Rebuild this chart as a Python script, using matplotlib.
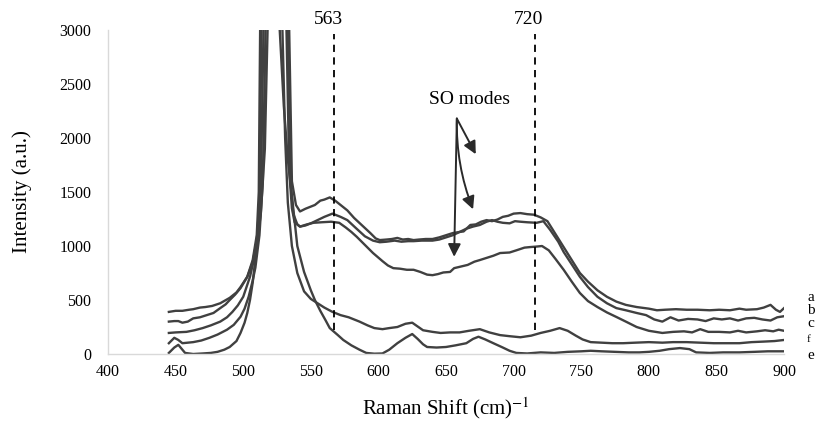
import numpy as np
import matplotlib
matplotlib.use('Agg')
import matplotlib.pyplot as plt

# Raman spectra, shift in cm-1 vs intensity (a.u.)
a_x = [445, 450, 455, 460, 463, 468, 472, 477, 483, 490, 495, 498, 503, 507, 510, 511.5, 512.5, 516, 521,
       534, 536, 539, 542, 546, 549, 553, 557, 560, 564, 568, 572, 577, 582, 588, 594, 598, 601,
       606, 610, 614, 618, 622, 626, 630, 635, 640, 645, 650, 655, 660, 663, 668, 672, 676, 680, 684, 688,
       692, 696, 700, 705, 710, 715, 720, 725, 730, 737, 743, 749, 755, 762, 769, 776, 783, 791, 800, 806,
       812, 820, 828, 836, 845, 852, 860, 867, 872, 880, 885, 890, 894, 897, 900]
a_y = [390, 400, 400, 410, 415, 430, 435, 445, 470, 520, 570, 620, 715, 870, 1100, 1500, 3000, 5000, 6000,
       3000, 1600, 1380, 1320, 1345, 1360, 1380, 1420, 1430, 1450, 1420, 1380, 1330, 1260, 1190, 1120, 1070, 1055,
       1060, 1065, 1075, 1060, 1065, 1055, 1060, 1065, 1065, 1080, 1100, 1120, 1130, 1135, 1195, 1200, 1225, 1240, 1230, 1245,
       1270, 1280, 1300, 1305, 1295, 1290, 1265, 1230, 1130, 990, 870, 750, 670, 590, 530, 485, 455, 435, 420, 405,
       410, 415, 410, 410, 405, 410, 405, 420, 410, 415, 430, 455, 410, 390, 425]

b_x = [445, 449, 452, 455, 459, 463, 468, 473, 478, 483, 487, 490, 494, 498, 503, 507, 510, 512, 513.5, 521,
       533, 535, 537, 540, 542, 546, 550, 555, 560, 566, 572, 577, 583, 590, 596, 601, 606,
       612, 617, 622, 626, 632, 640, 645, 650, 655, 660, 665, 670, 675, 680, 684, 688, 692, 697, 701, 705,
       710, 717, 722, 727, 733, 737, 743, 749, 755, 762, 769, 776, 783, 791, 798, 804, 810, 816, 822, 829,
       836, 842, 848, 854, 860, 866, 872, 878, 884, 890, 895, 900]
b_y = [300, 305, 305, 290, 300, 330, 340, 360, 380, 425, 460, 500, 550, 610, 715, 850, 1050, 1400, 3000, 6000,
       3000, 1600, 1300, 1200, 1180, 1190, 1210, 1240, 1270, 1300, 1270, 1240, 1170, 1090, 1050, 1035, 1040,
       1050, 1040, 1045, 1045, 1050, 1050, 1060, 1080, 1100, 1130, 1160, 1180, 1195, 1225, 1240, 1225, 1215, 1210, 1230, 1225,
       1220, 1215, 1230, 1150, 1040, 945, 830, 715, 620, 530, 470, 425, 405, 380, 360, 320, 300, 340, 310, 325,
       320, 305, 330, 320, 330, 310, 330, 335, 320, 310, 340, 350]

c_x = [445, 450, 458, 464, 470, 476, 483, 488, 492, 496, 500, 505, 508, 511, 513, 515, 521,
       532, 534, 536, 538, 542, 547, 552, 558, 565, 571, 576, 580, 584, 590, 596, 603, 607, 611, 616,
       621, 626, 631, 636, 640, 644, 648, 653, 656, 661, 666, 671, 675, 680, 685, 690, 697, 702, 708, 712,
       717, 721, 726, 731, 737, 743, 749, 755, 762, 769, 776, 783, 791, 800, 810, 818, 826, 832, 838, 844,
       852, 860, 866, 872, 880, 886, 892, 896, 900]
c_y = [195, 200, 205, 220, 240, 265, 300, 340, 390, 450, 530, 715, 880, 1100, 1500, 3000, 6000,
       3000, 1700, 1350, 1220, 1180, 1200, 1215, 1220, 1225, 1215, 1170, 1130, 1085, 1010, 935, 860, 820, 795, 790,
       780, 780, 760, 735, 730, 740, 755, 760, 795, 810, 825, 855, 870, 890, 910, 935, 940, 960, 985, 990,
       995, 1000, 960, 880, 780, 670, 565, 490, 435, 385, 343, 300, 250, 215, 195, 205, 210, 200, 230, 205,
       205, 200, 215, 200, 210, 220, 210, 225, 215]

f_x = [445, 449, 452, 455, 459, 463, 469, 475, 481, 488, 493, 498, 501, 504, 507, 509, 512, 514.5, 516.5, 521,
       529, 531, 533, 536, 540, 545, 550, 555, 560, 566, 572, 578, 586, 592, 597, 603, 608, 614,
       620, 625, 629, 633, 640, 646, 653, 660, 667, 675, 682, 690, 697, 705, 713, 720, 727, 734, 740, 746,
       751, 757, 765, 773, 781, 790, 800, 810, 818, 828, 838, 848, 858, 867, 876, 885, 893, 900]
f_y = [100, 150, 130, 100, 105, 110, 125, 150, 180, 225, 270, 345, 420, 530, 680, 800, 1100, 1600, 3000, 6000,
       3000, 2000, 1400, 1000, 750, 580, 510, 470, 430, 390, 360, 340, 300, 265, 240, 230, 240, 250,
       280, 290, 255, 220, 205, 195, 200, 200, 215, 230, 200, 175, 165, 155, 170, 195, 215, 240, 215, 170,
       135, 110, 105, 100, 100, 105, 110, 105, 110, 110, 105, 100, 100, 100, 110, 115, 120, 130]

e_x = [445, 449, 452, 455, 457, 463, 470, 476, 481, 486, 490, 495, 498, 501, 503, 505, 507, 510, 513, 516,
       518, 521, 527, 530, 533, 537, 540, 545, 550, 553, 557, 561, 564, 570, 574, 580, 586, 591,
       597, 603, 608, 614, 620, 625, 629, 633, 636, 643, 650, 657, 665, 670, 674, 679, 685, 692, 697, 702,
       710, 720, 730, 740, 750, 757, 765, 775, 785, 793, 800, 808, 815, 823, 830, 835, 845, 855, 867, 878,
       888, 900]
e_y = [10, 60, 85, 40, 10, 0, 5, 10, 20, 40, 65, 120, 195, 290, 380, 500, 660, 1000, 1300, 1900,
       3000, 6000, 3000, 2300, 1800, 1350, 1000, 760, 590, 500, 400, 310, 240, 175, 130, 80, 40, 10,
       3, 5, 40, 100, 150, 185, 140, 90, 65, 60, 65, 80, 100, 140, 160, 135, 100, 60, 30, 10,
       5, 15, 10, 20, 25, 30, 25, 20, 15, 15, 20, 30, 45, 55, 45, 15, 10, 15, 15, 20,
       25, 25]

curves = [(a_x, a_y), (b_x, b_y), (c_x, c_y), (f_x, f_y), (e_x, e_y)]
curve_names = ['a', 'b', 'c', 'f', 'e']
name_y = [520, 400, 285, 135, -15]
name_size = [11, 11, 11, 8, 11]

marker_x = [567, 716]
marker_text = ['563', '720']
marker_text_x = [563, 711]

plt.rcParams['font.family'] = 'Liberation Serif'
plt.rcParams['mathtext.fontset'] = 'stix'

fig = plt.figure(figsize=(8.19, 4.23), dpi=100)
ax = fig.add_axes([0.1319, 0.1631, 0.8254, 0.7659])
line_col = '#404040'

for (xs, ys) in curves:
    ax.plot(xs, ys, color=line_col, linewidth=1.7, solid_joinstyle='round')

for xm in marker_x:
    ax.plot([xm, xm], [220, 2960], color='black', linestyle=(0, (4, 3)), linewidth=1.3)
for xt, t in zip(marker_text_x, marker_text):
    ax.text(xt, 3020, t, ha='center', va='bottom', fontsize=14, clip_on=False)

for n, yn, s in zip(curve_names, name_y, name_size):
    ax.text(917, yn, n, ha='left', va='center', fontsize=s, clip_on=False)

# SO modes arrows
ax.text(667, 2360, 'SO modes', ha='center', va='center', fontsize=14)
arrow_src = (658, 2180)
arrow_tips = [(672, 1850), (670, 1340), (656, 900)]
arrow_rad = [0.0, 0.1, 0.0]
for tip, rad in zip(arrow_tips, arrow_rad):
    ax.annotate('', xy=tip, xytext=arrow_src,
                arrowprops=dict(arrowstyle='-|>', color='#2a2a2a', lw=1.4,
                                mutation_scale=19, shrinkA=0, shrinkB=0,
                                connectionstyle='arc3,rad=%s' % rad))

ax.set_xlim(400, 900)
ax.set_ylim(0, 3000)
ax.set_xticks(np.arange(400, 901, 50))
ax.set_yticks(np.arange(0, 3001, 500))
ax.tick_params(length=0, labelsize=11.5)
ax.tick_params(axis='y', pad=12)
ax.tick_params(axis='x', pad=7)
for s in ['top', 'right']:
    ax.spines[s].set_visible(False)
for s in ['left', 'bottom']:
    ax.spines[s].set_color('#d9d9d9')
    ax.spines[s].set_linewidth(1.0)

ax.set_xlabel('Raman Shift (cm)$^{-1}$', fontsize=15, labelpad=11)
ax.set_ylabel('Intensity (a.u.)', fontsize=15, labelpad=20)

fig.savefig('out.png', dpi=100)
